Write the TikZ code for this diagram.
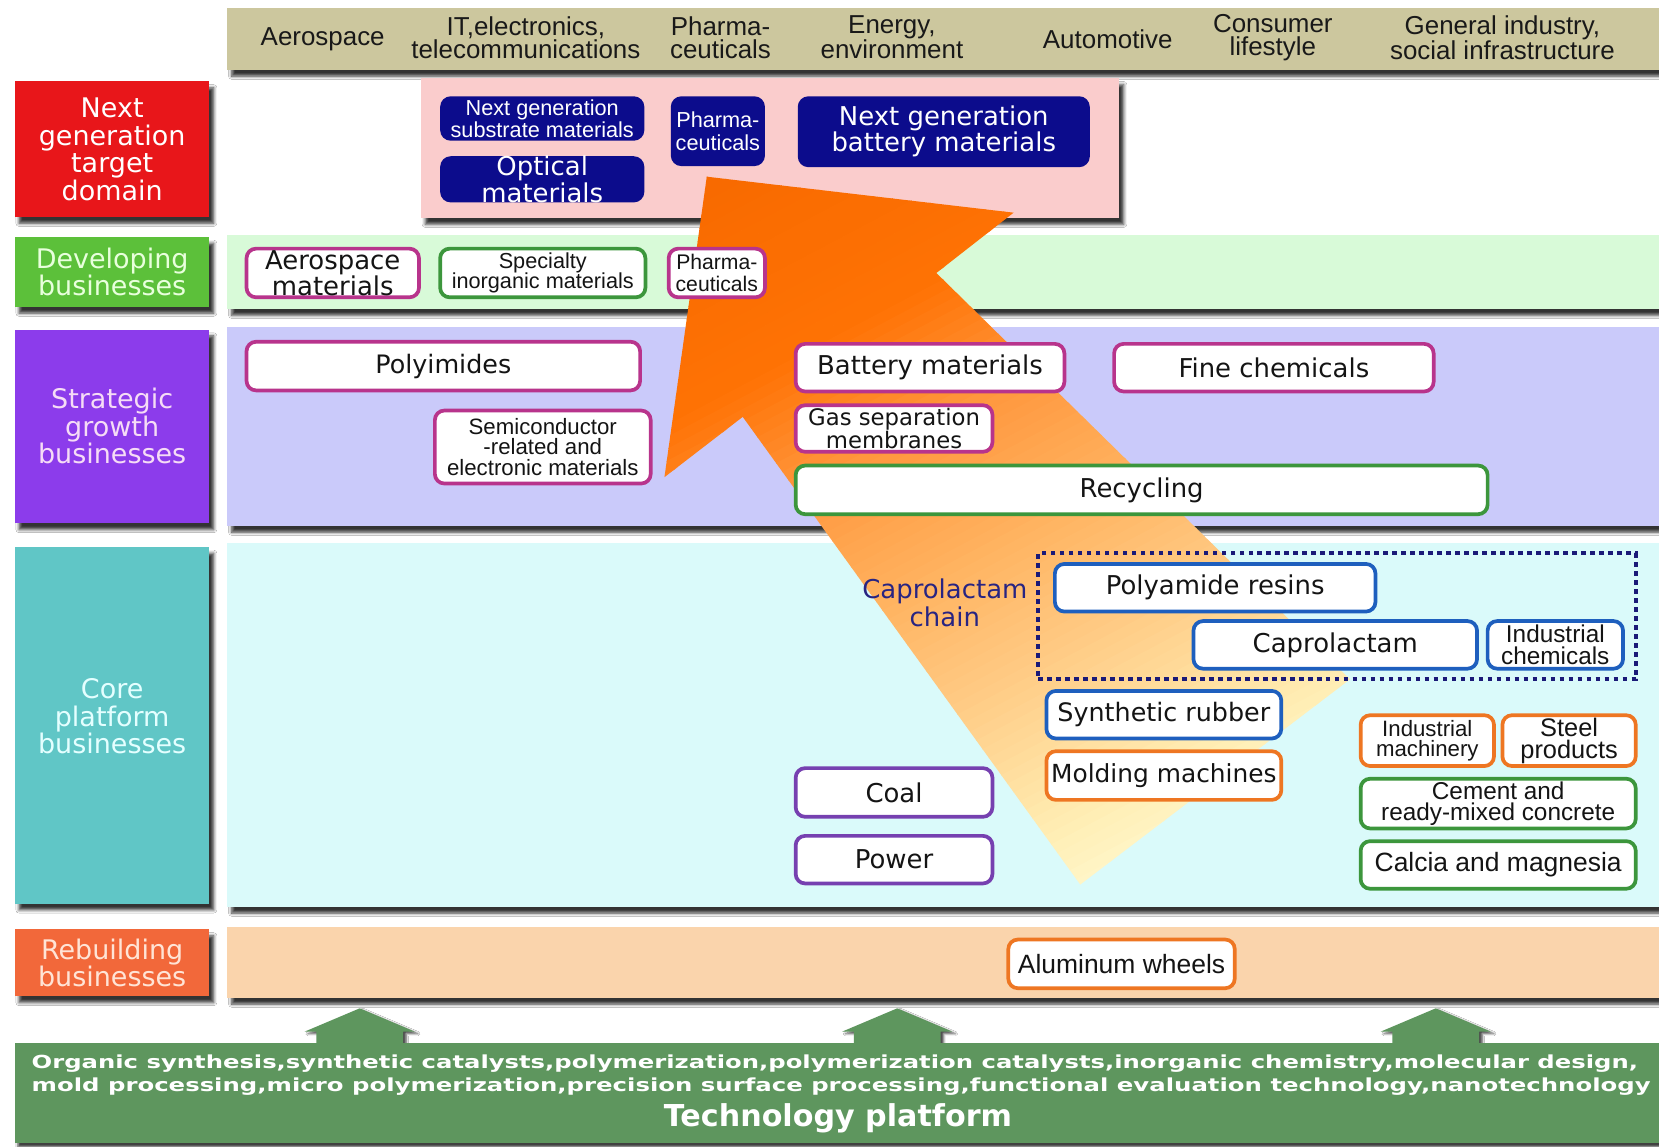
\documentclass[tikz,border=0pt]{standalone}
\usepackage{fontspec}
\usepackage{graphicx}
\setmainfont{DejaVu Sans}
\newfontfamily\arialf{Liberation Sans}
\usetikzlibrary{shadows.blur}

\newcommand\fs[2]{\fontsize{#1}{#2}\selectfont}

\definecolor{hdrband}{RGB}{204,199,158}
\definecolor{nextred}{RGB}{232,22,26}
\definecolor{devgreen}{RGB}{92,192,58}
\definecolor{stratpurple}{RGB}{140,60,235}
\definecolor{coreteal}{RGB}{96,198,198}
\definecolor{rebuildorange}{RGB}{242,104,58}
\definecolor{pinkpanel}{RGB}{250,204,204}
\definecolor{devband}{RGB}{216,250,216}
\definecolor{stratband}{RGB}{202,202,250}
\definecolor{coreband}{RGB}{218,250,250}
\definecolor{rebuildband}{RGB}{250,212,172}
\definecolor{navybox}{RGB}{12,12,140}
\definecolor{magborder}{RGB}{184,52,140}
\definecolor{grnborder}{RGB}{60,150,60}
\definecolor{bluborder}{RGB}{30,95,190}
\definecolor{orgborder}{RGB}{238,118,34}
\definecolor{purborder}{RGB}{118,64,176}
\definecolor{techgreen}{RGB}{94,150,94}
\definecolor{chainnavy}{RGB}{40,36,130}
\definecolor{dotnavy}{RGB}{26,26,120}

% box given by its corners: name, style, x1, y1, x2, y2, text
\newcommand\ubox[7]{%
  \node[#2, minimum width={#5-#3}, minimum height={#6-#4}] (#1) at ({(#3+#5)/2},{(#4+#6)/2}) {#7};}

\tikzset{
  sh/.style={blur shadow={shadow xshift=4pt, shadow yshift=-6pt, shadow blur radius=3pt, shadow opacity=80}},
  side/.style={sh, inner sep=0pt, align=center, font=\fs{25.5}{26}},
  sidetext/.style={inner sep=0pt, align=center, font=\fs{25.5}{26}},
  hdr/.style={font=\arialf\fs{24.5}{22}, align=center, text=black!90, inner sep=0pt},
  wbox/.style={draw, fill=white, rounded corners=9pt, line width=3.5pt, inner sep=0pt,
               align=center, text=black!92, font=\fs{24.5}{22}},
  mag/.style={wbox, draw=magborder},
  grn/.style={wbox, draw=grnborder},
  blu/.style={wbox, draw=bluborder},
  org/.style={wbox, draw=orgborder},
  pur/.style={wbox, draw=purborder},
  navy/.style={fill=navybox, rounded corners=10pt, inner sep=0pt, align=center, text=white},
  techtxt/.style={text=white, font=\bfseries\fs{17}{17}, inner sep=0pt},
  uparrow/.style={fill=techgreen, blur shadow={shadow xshift=3pt, shadow yshift=-2pt, shadow blur radius=2pt, shadow opacity=70}},
}

\begin{document}
\begin{tikzpicture}[x=1pt,y=-1pt]
\clip (0,0) rectangle (1568,1084);
\fill[white] (0,0) rectangle (1568,1084);

% ---------- column headings ----------
\path[fill=hdrband, sh] (215,8) rectangle (1640,66);
\node[hdr] (hAero)   at (305,37)   {Aerospace};
\node[hdr] (hIT)     at (497,35.5) {IT,electronics,\\telecommunications};
\node[hdr] (hPharma) at (681,35.5) {Pharma-\\ceuticals};
\node[hdr] (hEnergy) at (843,35.5) {Energy,\\environment};
\node[hdr] (hAuto)   at (1047,37)  {Automotive};
\node[hdr] (hCons)   at (1203,35.5){Consumer\\lifestyle};
\node[hdr] (hGen)    at (1420,35.5){General industry,\\social infrastructure};

% ---------- row bands ----------
\path[fill=pinkpanel, sh]   (398,74)  rectangle (1058,206);
\path[fill=devband, sh]     (215,222) rectangle (1640,292);
\path[fill=stratband, sh]   (215,309) rectangle (1640,497);
\path[fill=coreband, sh]    (215,513) rectangle (1640,857);
\path[fill=rebuildband, sh] (215,876) rectangle (1640,943);

% ---------- row labels ----------
\node[side, fill=nextred, text=white, minimum width=184, minimum height=128] (lNext) at (106,141)
  {Next\\generation\\target\\domain};
\node[side, fill=devgreen, text={rgb,255:red,232;green,255;blue,220}, minimum width=184, minimum height=66] (lDev) at (106,257)
  {Developing\\businesses};
\node[side, fill=stratpurple, text={rgb,255:red,246;green,220;blue,246}, minimum width=184, minimum height=183] (lStrat) at (106,403)
  {Strategic\\growth\\businesses};
\node[side, fill=coreteal, minimum width=184, minimum height=337] (lCore) at (106,685.5) {};
\node[sidetext, text={rgb,255:red,228;green,255;blue,255}] (lCoreT) at (106,677)
  {Core\\platform\\businesses};
\node[side, fill=rebuildorange, text={rgb,255:red,255;green,228;blue,214}, minimum width=184, minimum height=63] (lReb) at (106,910)
  {Rebuilding\\businesses};

% ---------- growth arrow with fading fill ----------
\coordinate (T)  at (668,167);
\coordinate (R)  at (958,201);
\coordinate (RN) at (885,258);
\coordinate (C)  at (1276,642);
\coordinate (B)  at (1021,836);
\coordinate (LN) at (702,394);
\coordinate (L)  at (628,451);
\begin{scope}
  \clip (T) -- (R) -- (RN) -- (C) -- (B) -- (LN) -- (L) -- cycle;
  \begin{scope}[shift={(668,167)}, rotate=-62.18]
    \foreach \s in {-60,-50,...,800}{
      \pgfmathsetmacro\wA{max(0,min(1,(\s+5)/190))}
      \pgfmathsetmacro\wB{max(0,min(1,(\s+5-190)/110))}
      \pgfmathsetmacro\wC{max(0,min(1,(\s+5-300)/130))}
      \pgfmathsetmacro\wD{max(0,min(1,(\s+5-430)/130))}
      \pgfmathsetmacro\wE{max(0,min(1,(\s+5-560)/140))}
      \pgfmathsetmacro\wF{max(0,min(1,(\s+5-700)/60))}
      \pgfmathtruncatemacro\cR{248+7*\wA}
      \pgfmathtruncatemacro\cG{106+9*\wA+35*\wB+28*\wC+27*\wD+33*\wE+8*\wF}
      \pgfmathtruncatemacro\cB{5*\wA+55*\wB+35*\wC+40*\wD+45*\wE+20*\wF}
      \definecolor{fadecol}{RGB}{\cR,\cG,\cB}
      \fill[fadecol] (\s,-800) rectangle (\s+10.6,800);
    }
  \end{scope}
\end{scope}

% ---------- next generation target domain ----------
\ubox{nSub}{navy, font=\arialf\fs{20.5}{21}}{416}{91}{609}{133}{Next generation\\substrate materials}
\ubox{nOpt}{navy, font=\fs{24.5}{21}}{416}{148}{609}{191}{Optical\\materials}
\ubox{nPh}{navy, font=\arialf\fs{20.5}{21}}{634}{91}{723}{157}{Pharma-\\ceuticals}
\ubox{nBat}{navy, font=\fs{24.5}{23}}{754}{91}{1030}{158}{Next generation\\battery materials}

% ---------- developing businesses ----------
\ubox{dAero}{mag, font=\fs{24.5}{20.5}}{233}{235}{396}{281}{Aerospace\\materials}
\ubox{dSpec}{grn, font=\arialf\fs{20.5}{19.5}}{416}{235}{610}{281}{Specialty\\inorganic materials}
\ubox{dPh}{mag, font=\arialf\fs{20}{20}}{632}{235}{723}{281}{Pharma-\\ceuticals}

% ---------- strategic growth businesses ----------
\ubox{sPoly}{mag, font=\fs{24}{22}}{233}{323}{605}{369}{Polyimides}
\ubox{sSemi}{mag, font=\arialf\fs{21}{19.5}}{411}{388}{615}{457}{Semiconductor\\-related and\\electronic materials}
\ubox{sBat}{mag}{752}{325}{1006}{370}{Battery materials}
\ubox{sFine}{mag}{1053}{325}{1355}{370}{Fine chemicals}
\ubox{sGas}{mag, font=\fs{21.5}{19.5}}{752}{383}{938}{427}{Gas separation\\membranes}
\ubox{sRec}{grn}{752}{440}{1406}{486}{Recycling}

% ---------- core platform businesses ----------
\node[align=center, inner sep=0pt, text=chainnavy, font=\fs{24.5}{26}] (chain) at (893,570) {Caprolactam\\chain};
\node[draw=dotnavy, line width=4pt, dash pattern=on 4.5pt off 4pt, inner sep=0pt,
      minimum width=565, minimum height=119] (chainbox) at (1263.5,582.5) {};
\ubox{cPoly}{blu}{997}{533}{1300}{578}{Polyamide resins}
\ubox{cCap}{blu}{1128}{587}{1396}{632}{Caprolactam}
\ubox{cInd}{blu, font=\arialf\fs{23}{20.5}}{1406}{587}{1534}{632}{Industrial\\chemicals}
\ubox{cSyn}{blu, font=\fs{24}{22}}{989}{653}{1211}{698}{Synthetic rubber}
\ubox{cMold}{org, font=\fs{23.5}{22}}{989}{710}{1211}{756}{Molding machines}
\ubox{cCoal}{pur}{752}{726}{938}{772}{Coal}
\ubox{cPower}{pur}{752}{790}{938}{835}{Power}
\ubox{cMach}{org, font=\arialf\fs{21}{19.5}}{1286}{676}{1412}{724}{Industrial\\machinery}
\ubox{cSteel}{org, font=\arialf\fs{24}{21}}{1420}{676}{1546}{724}{Steel\\products}
\ubox{cCement}{grn, font=\arialf\fs{23}{20.5}}{1286}{736}{1546}{783}{Cement and\\ready-mixed concrete}
\ubox{cCalcia}{grn, font=\arialf\fs{25}{22}}{1286}{795}{1546}{840}{Calcia and magnesia}

% ---------- rebuilding businesses ----------
\ubox{rAlu}{org, font=\arialf\fs{25}{22}}{953}{888}{1167}{934}{Aluminum wheels}

% ---------- technology platform ----------
\foreach \ax in {340,848,1357}{
  \path[uparrow] (\ax-52,975) -- (\ax,953) -- (\ax+52,975) -- (\ax+41,975) -- (\ax+41,995)
                 -- (\ax-41,995) -- (\ax-41,975) -- cycle;
}
\path[fill=techgreen, blur shadow={shadow xshift=3pt, shadow yshift=-4pt, shadow blur radius=2pt, shadow opacity=75}]
  (14,986) rectangle (1640,1080);
\node[techtxt] (tech1) at (789,1005)
  {\resizebox{1518pt}{\height}{Organic synthesis,synthetic catalysts,polymerization,polymerization catalysts,inorganic chemistry,molecular design,}};
\node[techtxt] (tech2) at (795,1027)
  {\resizebox{1530pt}{\height}{mold processing,micro polymerization,precision surface processing,functional evaluation technology,nanotechnology}};
\node[text=white, font=\bfseries\fs{28.5}{28}, inner sep=0pt] (techtitle) at (792,1057) {Technology platform};
\end{tikzpicture}
\end{document}
